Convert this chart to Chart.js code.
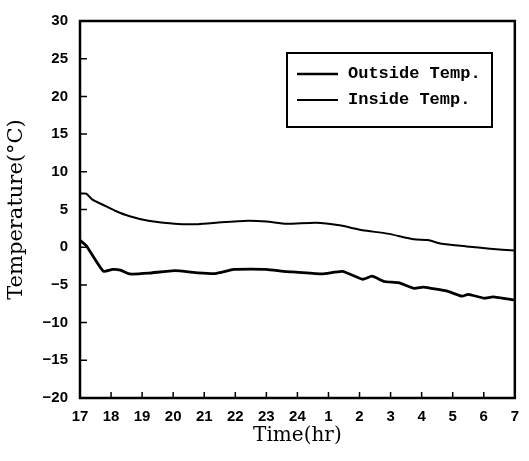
<!DOCTYPE html>
<html>
<head>
<meta charset="utf-8">
<script src="https://cdn.jsdelivr.net/npm/chart.js@4.4.0/dist/chart.umd.min.js"></script>
<style>
  html, body { margin: 0; padding: 0; background: #fff; }
</style>
</head>
<body>
<canvas id="myChart" width="529" height="461"></canvas>
<script>
// x is hours since 17:00, labels are clock hours
const hourLabels = ['17', '18', '19', '20', '21', '22', '23', '24', '1', '2', '3', '4', '5', '6', '7'];

const insideHours = [0, 0.2, 0.4, 0.75, 1.15, 1.6, 2.2, 3.05, 3.8, 4.55, 5.4, 6.0, 6.65, 7.6, 8.35, 9.1, 9.9, 10.75, 11.2, 11.6, 12.45, 13.2, 14];
const insideTemp = [7.1, 7.1, 6.3, 5.6, 4.8, 4.1, 3.5, 3.1, 3.05, 3.3, 3.5, 3.4, 3.1, 3.25, 2.9, 2.25, 1.8, 1.05, 0.95, 0.5, 0.1, -0.2, -0.45];

const outsideHours = [0, 0.2, 0.75, 1.05, 1.3, 1.6, 2.2, 3.05, 3.8, 4.35, 4.95, 5.5, 6.0, 6.65, 6.95, 7.8, 8.45, 9.1, 9.4, 9.8, 10.25, 10.75, 11.05, 11.3, 11.8, 12.3, 12.5, 13.0, 13.3, 14];
const outsideTemp = [0.9, 0.2, -3.2, -2.95, -3.05, -3.55, -3.45, -3.1, -3.4, -3.5, -2.95, -2.9, -2.95, -3.25, -3.3, -3.55, -3.2, -4.25, -3.85, -4.55, -4.7, -5.45, -5.3, -5.45, -5.8, -6.5, -6.25, -6.75, -6.6, -7.0];

const toPoints = (xs, ys) => xs.map((h, i) => ({ x: h, y: ys[i] }));

// frame, inward ticks and the boxed legend
const framePlugin = {
  id: 'frame',
  afterDraw(chart) {
    const { ctx, chartArea: a, scales } = chart;
    ctx.save();
    ctx.strokeStyle = '#000';
    ctx.lineWidth = 2.5;
    ctx.strokeRect(a.left, a.top, a.right - a.left, a.bottom - a.top);

    ctx.lineWidth = 1.5;
    ctx.beginPath();
    scales.y.ticks.forEach(t => {
      const py = scales.y.getPixelForValue(t.value);
      ctx.moveTo(a.left, py);
      ctx.lineTo(a.left + 7, py);
    });
    scales.x.ticks.forEach(t => {
      const px = scales.x.getPixelForValue(t.value);
      ctx.moveTo(px, a.bottom);
      ctx.lineTo(px, a.bottom - 6);
    });
    ctx.stroke();

    // legend
    ctx.lineWidth = 2;
    ctx.strokeRect(287, 53, 205, 74);
    ctx.lineWidth = 2.5;
    ctx.beginPath();
    ctx.moveTo(297, 74);
    ctx.lineTo(338, 74);
    ctx.stroke();
    ctx.lineWidth = 1.8;
    ctx.beginPath();
    ctx.moveTo(297, 100);
    ctx.lineTo(338, 100);
    ctx.stroke();
    ctx.fillStyle = '#000';
    ctx.font = 'bold 17px "Liberation Mono", monospace';
    ctx.textBaseline = 'middle';
    ctx.fillText('Outside Temp.', 348, 74);
    ctx.fillText('Inside Temp.', 348, 100);
    ctx.restore();
  }
};

new Chart(document.getElementById('myChart'), {
  type: 'line',
  data: {
    datasets: [
      {
        label: 'Outside Temp.',
        data: toPoints(outsideHours, outsideTemp),
        borderColor: '#000',
        borderWidth: 2.8,
        pointRadius: 0,
        tension: 0.15,
        fill: false
      },
      {
        label: 'Inside Temp.',
        data: toPoints(insideHours, insideTemp),
        borderColor: '#000',
        borderWidth: 2,
        pointRadius: 0,
        tension: 0.2,
        fill: false
      }
    ]
  },
  options: {
    responsive: false,
    animation: false,
    layout: { padding: { top: 14, right: 7, left: 0, bottom: 0 } },
    plugins: {
      legend: { display: false },
      tooltip: { enabled: false }
    },
    scales: {
      x: {
        type: 'linear',
        min: 0,
        max: 14,
        grid: { display: false, drawTicks: false },
        border: { display: false },
        afterFit(scale) { scale.height = 63; },
        ticks: {
          stepSize: 1,
          padding: 10,
          color: '#000',
          font: { family: '"Liberation Sans", Arial, sans-serif', size: 15, weight: 'bold' },
          maxRotation: 0,
          callback: v => hourLabels[v]
        },
        title: {
          display: true,
          text: 'Time(hr)',
          color: '#000',
          font: { family: '"DejaVu Serif", serif', size: 20 },
          padding: { top: 0, bottom: 13 }
        }
      },
      y: {
        min: -20,
        max: 30,
        grid: { display: false, drawTicks: false },
        border: { display: false },
        afterFit(scale) { scale.width = 80; },
        ticks: {
          stepSize: 5,
          padding: 12,
          color: '#000',
          font: { family: '"Liberation Sans", Arial, sans-serif', size: 15, weight: 'bold' },
          callback: v => (v < 0 ? '\u2212' + Math.abs(v) : String(v))
        },
        title: {
          display: true,
          text: 'Temperature(\u00B0C)',
          color: '#000',
          font: { family: '"DejaVu Serif", serif', size: 21 },
          padding: { top: 4, bottom: 0 }
        }
      }
    }
  },
  plugins: [framePlugin]
});
</script>
</body>
</html>
